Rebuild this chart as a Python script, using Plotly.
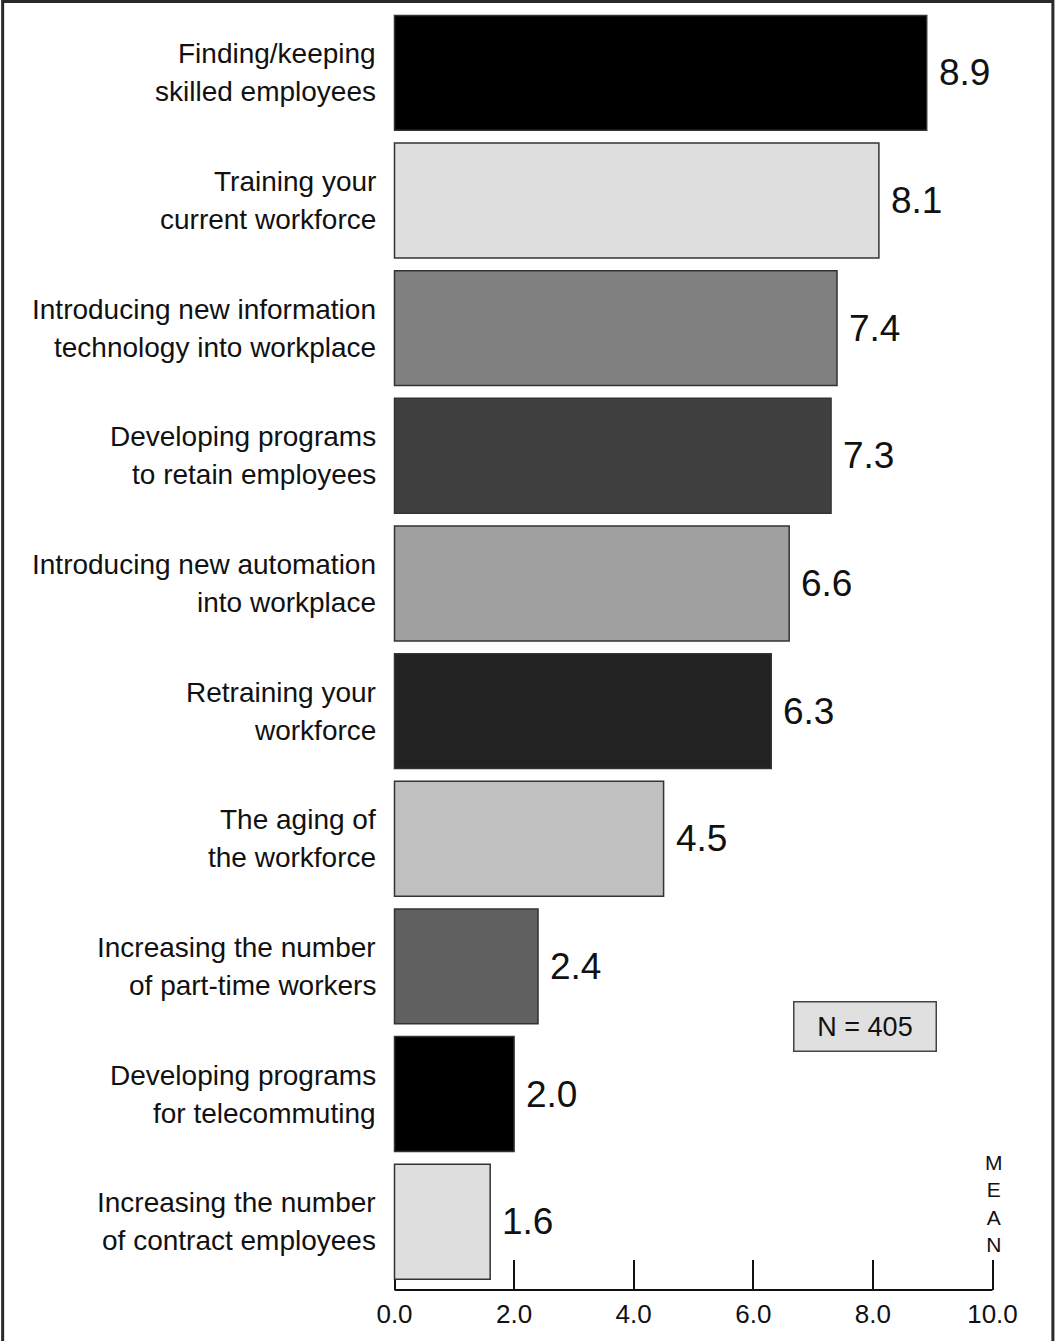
import plotly.graph_objects as go

# ---- data ----
categories = [
    "Finding/keeping<br>skilled employees",
    "Training your<br>current workforce",
    "Introducing new information<br>technology into workplace",
    "Developing programs<br>to retain employees",
    "Introducing new automation<br>into workplace",
    "Retraining your<br>workforce",
    "The aging of<br>the workforce",
    "Increasing the number<br>of part-time workers",
    "Developing programs<br>for telecommuting",
    "Increasing the number<br>of contract employees",
]
means = [8.9, 8.1, 7.4, 7.3, 6.6, 6.3, 4.5, 2.4, 2.0, 1.6]
bar_colors = ["#000000", "#dedede", "#808080", "#404040", "#a0a0a0",
              "#222222", "#c0c0c0", "#606060", "#000000", "#dedede"]
tick_values = [0, 2, 4, 6, 8, 10]
tick_labels = ["0.0", "2.0", "4.0", "6.0", "8.0", "10.0"]
sample_note = "N = 405"
axis_title = "MEAN"

W, H = 1056, 1341
X_LO, X_HI = -0.025, 10.025
ML, MR, MT, MB = 392.5, 61.5, 9, 51
PW = W - ML - MR
PH = H - MT - MB


def px_to_paper_x(px):
    return (px - ML) / PW


def px_to_paper_y(py):
    return (H - MB - py) / PH


ykeys = [c.replace("<br>", " ") for c in categories]

fig = go.Figure()
fig.add_trace(go.Bar(
    x=means, y=ykeys, orientation="h",
    marker=dict(color=bar_colors, line=dict(color="#333333", width=1.5)),
    width=0.9, hoverinfo="skip", cliponaxis=False,
))

label_font = dict(family="Liberation Sans, Arial, sans-serif", size=28, color="#111111")
annotations = []
# category labels, two lines each
for key, cat in zip(ykeys, categories):
    lines = cat.split("<br>")
    n = len(lines)
    for j, ln in enumerate(lines):
        annotations.append(dict(
            xref="x", yref="y", x=0, y=key, text=ln, showarrow=False,
            xanchor="right", yanchor="middle", xshift=-17,
            yshift=(n - 1) * 19 - j * 38, font=label_font,
        ))
# value labels
for key, v in zip(ykeys, means):
    annotations.append(dict(
        xref="x", yref="y", x=v, y=key, text=f"{v:.1f}", showarrow=False,
        xanchor="left", yanchor="middle", xshift=10,
        font=dict(family="Liberation Sans, Arial, sans-serif", size=37, color="#111111"),
    ))
# N box
annotations.append(dict(
    xref="x", yref="paper", x=7.86, y=px_to_paper_y(1026.5), text=sample_note,
    showarrow=False, xanchor="center", yanchor="middle",
    bgcolor="#e0e0e0", bordercolor="#444444", borderwidth=1.5, borderpad=0,
    width=141, height=48,
    font=dict(family="Liberation Sans, Arial, sans-serif", size=27, color="#111111"),
))
# vertical MEAN (stacked letters)
annotations.append(dict(
    xref="paper", yref="paper", x=px_to_paper_x(995), y=px_to_paper_y(1203),
    text="<br>".join(list(axis_title)), showarrow=False,
    xanchor="center", yanchor="middle", align="center",
    font=dict(family="Liberation Sans, Arial, sans-serif", size=21, color="#111111"),
))

fig.update_layout(
    width=W, height=H,
    margin=dict(l=ML, r=MR, t=MT, b=MB, pad=0),
    paper_bgcolor="white", plot_bgcolor="white",
    showlegend=False,
    annotations=annotations,
    xaxis=dict(
        range=[X_LO, X_HI], tickvals=tick_values, ticktext=tick_labels,
        ticks="inside", ticklen=30, tickwidth=2, tickcolor="#111111",
        ticklabelstandoff=6,
        showline=False, showgrid=False, zeroline=False, layer="below traces",
        tickfont=dict(family="Liberation Sans, Arial, sans-serif", size=26, color="#111111"),
        fixedrange=True,
    ),
    yaxis=dict(
        categoryorder="array", categoryarray=ykeys,
        range=[9.535, -0.5], showticklabels=False, ticks="",
        showline=False, showgrid=False, zeroline=False, fixedrange=True,
    ),
    shapes=[
        # baseline axis line from 0 to 10
        dict(type="line", xref="x", yref="paper", x0=tick_values[0], x1=tick_values[-1],
             y0=0, y1=0, line=dict(color="#111111", width=2), layer="below"),
        # outer frame
        dict(type="rect", xref="paper", yref="paper",
             x0=px_to_paper_x(1.5), x1=px_to_paper_x(1053.5),
             y0=px_to_paper_y(1360), y1=px_to_paper_y(1.5),
             line=dict(color="#2a2a2a", width=3), fillcolor="rgba(0,0,0,0)",
             layer="above"),
    ],
)

fig.write_html("out.html", config={"displayModeBar": False})
